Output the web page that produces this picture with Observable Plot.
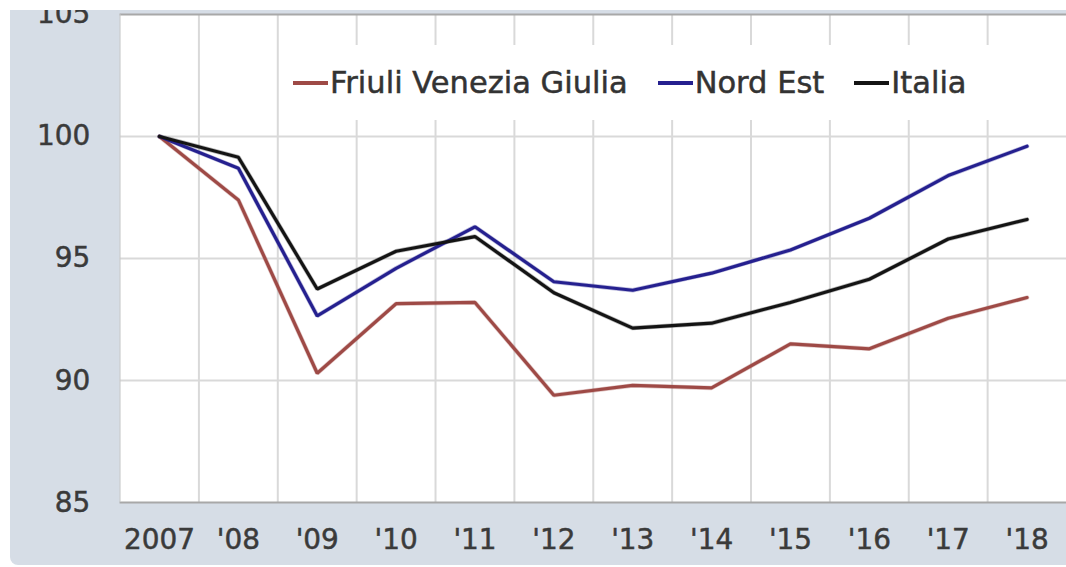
<!DOCTYPE html>
<html>
<head>
<meta charset="utf-8">
<script src="https://cdn.jsdelivr.net/npm/d3@7"></script>
<script src="https://cdn.jsdelivr.net/npm/@observablehq/plot@0.6"></script>
<style>
  body { margin: 0; background: #fff; }
  #wrap { position: relative; width: 1066px; height: 567px; overflow: hidden; font-family: "DejaVu Sans", sans-serif; }
  #bg { position: absolute; left: 10px; top: 0; width: 1056px; height: 565px; background: #d6dde6; border-bottom-left-radius: 8px; }
  #chart { position: absolute; left: 0; top: 0; }
  #chart svg text { stroke: #3a3a3a; stroke-width: 0.5px; }
  #topstrip { position: absolute; left: 0; top: 0; width: 1066px; height: 10px; background: #fff; }
  #legend { position: absolute; left: 283px; top: 45px; width: 720px; height: 75px; background: #fff; }
  #legend .row { position: absolute; left: 10px; top: 23px; height: 30px; display: flex; align-items: center; }
  #legend .item { display: flex; align-items: center; margin-right: 30px; }
  #legend .sw { width: 35px; height: 3.5px; margin-right: 2px; }
  #legend .lab { font-size: 30.5px; line-height: 30px; color: #333; white-space: nowrap; -webkit-text-stroke: 0.5px #333; }
</style>
</head>
<body>
<div id="wrap">
  <div id="bg"></div>
  <div id="chart"></div>
  <div id="legend"><div class="row" id="legrow"></div></div>
  <div id="topstrip"></div>
</div>
<script>
const years = [2007, 2008, 2009, 2010, 2011, 2012, 2013, 2014, 2015, 2016, 2017, 2018];
const tickLabels = ["2007", "'08", "'09", "'10", "'11", "'12", "'13", "'14", "'15", "'16", "'17", "'18"];
const yTicks = [85, 90, 95, 100, 105];
const seriesNames = ["Friuli Venezia Giulia", "Nord Est", "Italia"];
const seriesColors = ["#9e4a46", "#25208f", "#141414"];
const friuli  = [100, 97.4, 90.3, 93.15, 93.2, 89.4, 89.8, 89.7, 91.5, 91.3, 92.55, 93.4];
const nordEst = [100, 98.7, 92.65, 94.6, 96.3, 94.05, 93.7, 94.4, 95.35, 96.65, 98.4, 99.6];
const italia  = [100, 99.15, 93.75, 95.3, 95.9, 93.6, 92.15, 92.35, 93.2, 94.15, 95.8, 96.6];

const seriesValues = [friuli, nordEst, italia];
const data = seriesNames.flatMap((s, k) => years.map((y, i) => ({year: y, value: seriesValues[k][i], series: s})));
const gridYears = years.slice(0, -1).map(y => y + 0.5);

const chart = Plot.plot({
  width: 1070,
  height: 567,
  marginLeft: 120,
  marginRight: 0,
  marginTop: 14,
  marginBottom: 63,
  style: {fontFamily: "DejaVu Sans, sans-serif", color: "#3a3a3a", background: "transparent", overflow: "visible"},
  x: {domain: [2006.5, 2018.5]},
  y: {domain: [85, 105]},
  color: {domain: seriesNames, range: seriesColors},
  marks: [
    Plot.frame({fill: "white", stroke: null}),
    Plot.ruleX(gridYears, {stroke: "#d9d9d9", strokeWidth: 2}),
    Plot.ruleY([90, 95, 100], {stroke: "#d9d9d9", strokeWidth: 2}),
    Plot.ruleY([85, 105], {stroke: "#a8a8a8", strokeWidth: 2}),
    Plot.ruleX([2006.5], {stroke: "#c8c8c8", strokeWidth: 1}),
    Plot.line(data, {x: "year", y: "value", z: "series", stroke: "series", strokeWidth: 4.5, strokeOpacity: 0.3, strokeLinejoin: "miter"}),
    Plot.line(data, {x: "year", y: "value", z: "series", stroke: "series", strokeWidth: 3.2, strokeLinejoin: "miter"}),
    Plot.axisX({ticks: years, tickFormat: d => tickLabels[years.indexOf(d)], tickSize: 0, tickPadding: 27, fontSize: 28, label: null}),
    Plot.axisY({ticks: yTicks, tickSize: 0, tickPadding: 30, fontSize: 28, label: null})
  ]
});
document.getElementById("chart").appendChild(chart);

const row = document.getElementById("legrow");
seriesNames.forEach((s, k) => {
  const it = document.createElement("div");
  it.className = "item";
  const sw = document.createElement("div");
  sw.className = "sw";
  sw.style.background = seriesColors[k];
  const lab = document.createElement("div");
  lab.className = "lab";
  lab.textContent = s;
  it.appendChild(sw);
  it.appendChild(lab);
  row.appendChild(it);
});
</script>
</body>
</html>
